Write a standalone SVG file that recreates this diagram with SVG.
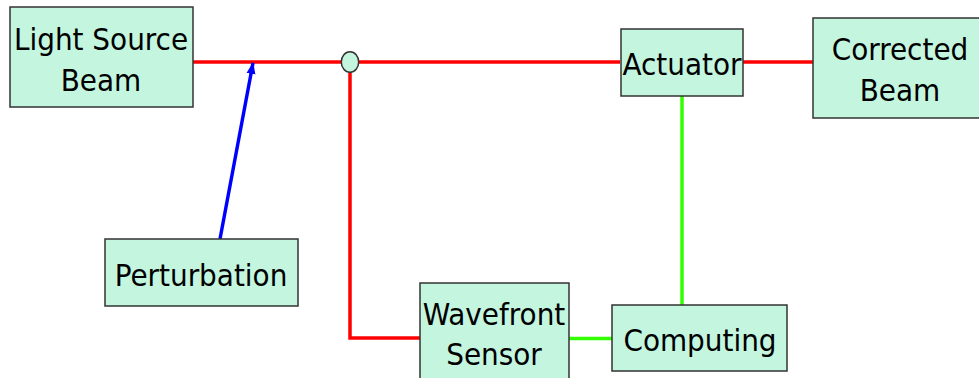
<svg xmlns="http://www.w3.org/2000/svg" width="979" height="378" viewBox="0 0 979 378">
<style>
.box{fill:#c3f5df;stroke:#333;stroke-width:1.5}
.t{font-family:"DejaVu Sans Condensed","DejaVu Sans",sans-serif;font-stretch:condensed;font-size:31px;fill:#000;text-anchor:middle}
.red{stroke:#ff0000;stroke-width:3.5;fill:none}
.green{stroke:#33ff00;stroke-width:3.5;fill:none}
.blue{stroke:#0000ff;stroke-width:3.5;fill:none}
</style>
<defs>
<marker id="ah" markerWidth="12" markerHeight="10" refX="11" refY="5" orient="auto" markerUnits="userSpaceOnUse">
<path d="M0,0.5 L12,5 L0,9.5 Z" fill="#0000ff"/>
</marker>
</defs>
<g id="connectors">
<path class="red" d="M193,62 H620"/>
<path class="red" d="M350,62 V338 H420"/>
<path class="red" d="M743,62 H813"/>
<path class="green" d="M569,338.5 H612"/>
<path class="green" d="M682,96 V305"/>
<path class="blue" d="M220,239 L253,63" marker-end="url(#ah)"/>
</g>
<g id="junction"><ellipse cx="350" cy="62" rx="8.7" ry="10.3" fill="#c3f5df" stroke="#333" stroke-width="1.5"/></g>
<g id="light-source"><rect class="box" x="10" y="7" width="183" height="100"/><text class="t" x="101" y="50">Light Source</text><text class="t" x="101" y="91">Beam</text></g>
<g id="perturbation"><rect class="box" x="105" y="239" width="193" height="67"/><text class="t" x="201" y="286">Perturbation</text></g>
<g id="actuator"><rect class="box" x="621" y="29" width="122" height="67"/><text class="t" x="682" y="75">Actuator</text></g>
<g id="corrected-beam"><rect class="box" x="813" y="18" width="170" height="100"/><text class="t" x="900" y="60">Corrected</text><text class="t" x="900" y="101">Beam</text></g>
<g id="wavefront-sensor"><rect class="box" x="420" y="283" width="149" height="100"/><text class="t" x="494" y="325">Wavefront</text><text class="t" x="494" y="365">Sensor</text></g>
<g id="computing"><rect class="box" x="612" y="305" width="175" height="66"/><text class="t" x="700" y="351">Computing</text></g>
</svg>
